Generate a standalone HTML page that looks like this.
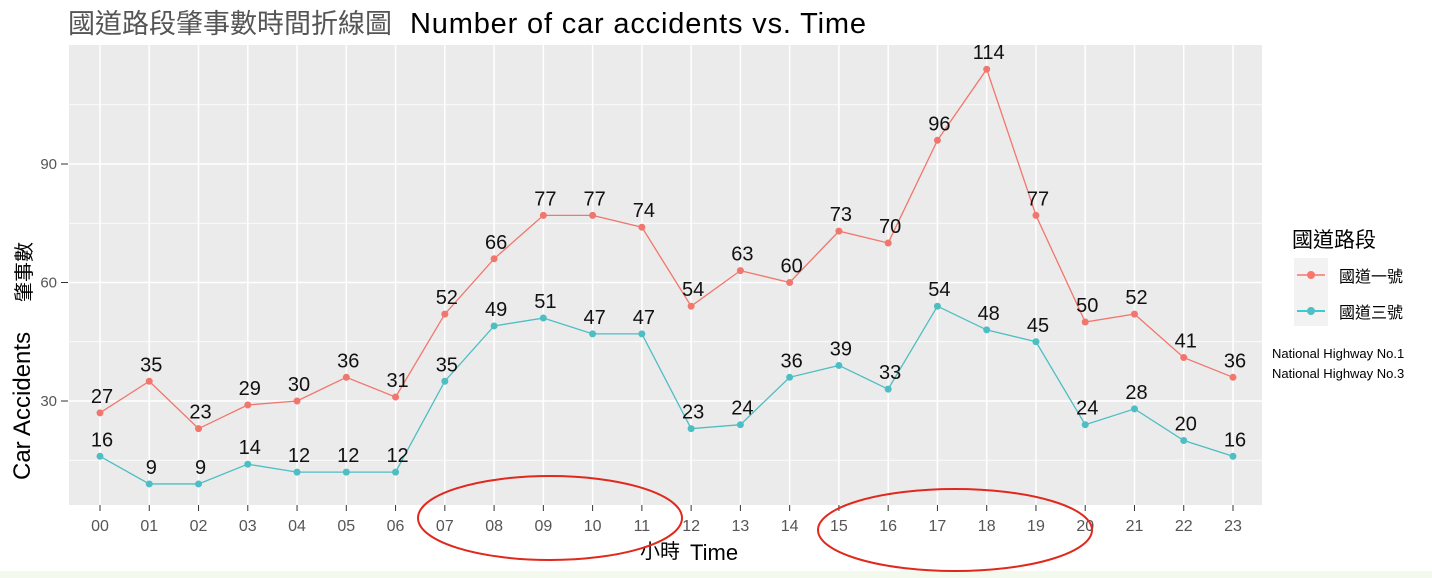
<!DOCTYPE html>
<html><head><meta charset="utf-8"><style>
body{margin:0;background:#fff;}
svg{display:block;font-family:"Liberation Sans","Noto Sans CJK TC",sans-serif;}
</style></head><body>
<svg width="1432" height="578">
<rect x="0" y="571" width="1432" height="7" fill="#f3f9ec"/>
<text x="68" y="33" font-size="27" fill="#555" font-family="'Noto Sans CJK TC',sans-serif">國道路段肇事數時間折線圖</text>
<text x="410" y="33" font-size="29" textLength="456" fill="#000">Number of car accidents vs. Time</text>
<rect x="69" y="45" width="1193" height="460" fill="#ebebeb"/>
<g id="grid"></g>
<g id="axes"></g>
<g id="series"></g>
<text transform="translate(30,480) rotate(-90)" font-size="24" fill="#000">Car Accidents</text>
<text transform="translate(31,302) rotate(-90)" font-size="20" fill="#000" font-family="'Noto Sans CJK TC',sans-serif">肇事數</text>
<text x="640" y="558" font-size="20" fill="#000" font-family="'Noto Sans CJK TC',sans-serif">小時</text>
<text x="690" y="560" font-size="22" fill="#000">Time</text>
<g>
<text x="1292" y="247" font-size="21" fill="#000" font-family="'Noto Sans CJK TC',sans-serif">國道路段</text>
<rect x="1294" y="258" width="34" height="68" fill="#f2f2f2"/>
<line x1="1297" x2="1325" y1="275" y2="275" stroke="#F8766D" stroke-width="1.5"/><circle cx="1311" cy="275" r="4" fill="#F8766D"/>
<line x1="1297" x2="1325" y1="311" y2="311" stroke="#00BFC4" stroke-width="1.5"/><circle cx="1311" cy="311" r="4" fill="#4fbfc4"/>
<text x="1339" y="282" font-size="16" font-family="'Noto Sans CJK TC',sans-serif">國道一號</text>
<text x="1339" y="318" font-size="16" font-family="'Noto Sans CJK TC',sans-serif">國道三號</text>
<text x="1272" y="358" font-size="13">National Highway No.1</text>
<text x="1272" y="378" font-size="13">National Highway No.3</text>
</g>
<ellipse cx="550" cy="518" rx="132" ry="42" fill="none" stroke="#e0281c" stroke-width="2"/>
<ellipse cx="955" cy="530" rx="137" ry="41" fill="none" stroke="#e0281c" stroke-width="2"/>
</svg>
<script>
const hours=["00","01","02","03","04","05","06","07","08","09","10","11","12","13","14","15","16","17","18","19","20","21","22","23"];
const highway1=[27,35,23,29,30,36,31,52,66,77,77,74,54,63,60,73,70,96,114,77,50,52,41,36];
const highway3=[16,9,9,14,12,12,12,35,49,51,47,47,23,24,36,39,33,54,48,45,24,28,20,16];
const yTicks=[30,60,90];
const yMinor=[15,45,75,105];
const NS="http://www.w3.org/2000/svg";
function xS(i){return 100+i*(1233-100)/23;}
function yS(v){return 519.5-v*(118.5/30);}
function mk(tag,attrs,parent){const e=document.createElementNS(NS,tag);for(const k in attrs)e.setAttribute(k,attrs[k]);parent.appendChild(e);return e;}
const grid=document.getElementById('grid'),axes=document.getElementById('axes'),ser=document.getElementById('series');
yMinor.forEach(v=>{const l=mk('line',{x1:69,x2:1262,y1:yS(v),y2:yS(v),stroke:'#fff','stroke-width':0.7},grid);

});
yTicks.forEach(v=>{const l=mk('line',{x1:69,x2:1262,y1:yS(v),y2:yS(v),stroke:'#fff','stroke-width':1.5},grid);


const t=mk('text',{x:57,y:yS(v)+5,'font-size':15,fill:'#555','text-anchor':'end'},axes);t.textContent=v;


mk('line',{x1:61,x2:68,y1:yS(v),y2:yS(v),stroke:'#333'},axes);});
hours.forEach((h,i)=>{const l=mk('line',{x1:xS(i),x2:xS(i),y1:45,y2:505,stroke:'#fff','stroke-width':1.5},grid);


mk('line',{x1:xS(i),x2:xS(i),y1:505,y2:511,stroke:'#333'},axes);
const t=mk('text',{x:xS(i),y:531,'font-size':16,fill:'#555','text-anchor':'middle'},axes);t.textContent=h;

});
function series(vals,color,name){
const p=mk('polyline',{points:vals.map((v,i)=>xS(i)+','+yS(v)).join(' '),fill:'none',stroke:color,'stroke-width':1.3},ser);


vals.forEach((v,i)=>{const c=mk('circle',{cx:xS(i),cy:yS(v),r:3.5,fill:color},ser);


const t=mk('text',{x:xS(i)+2,y:yS(v)-10,'font-size':20,fill:'#111','text-anchor':'middle'},ser);t.textContent=v;

});}
series(highway1,'#F1766D','highway1');
series(highway3,'#4DBEC3','highway3');
</script>
</body></html>
